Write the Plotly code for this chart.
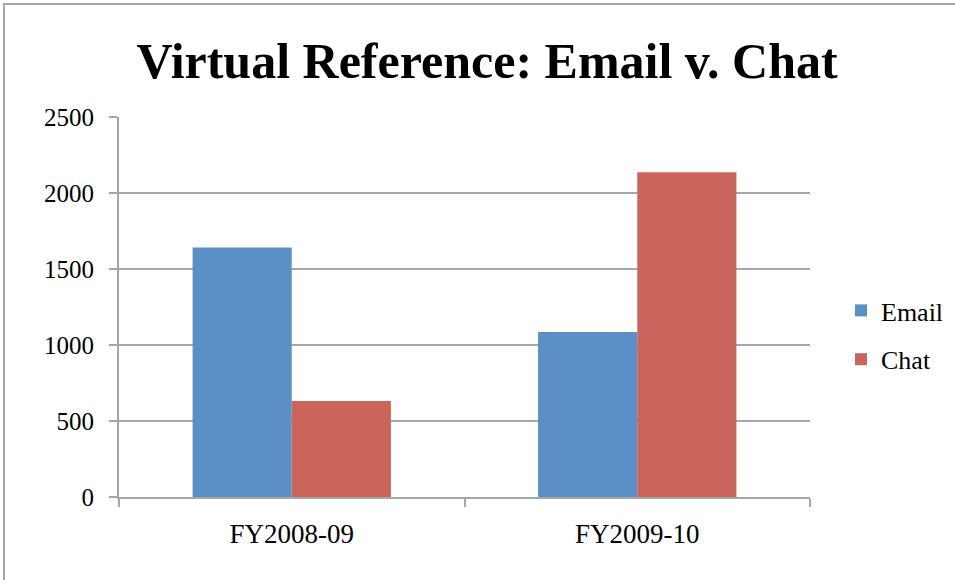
import plotly.graph_objects as go

categories = ["FY2008-09", "FY2009-10"]
email = [1641, 1086]
chat = [632, 2136]
y_ticks = [0, 500, 1000, 1500, 2000, 2500]

W, H = 955, 580
ML, MR, MT, MB = 119, 145, 117, 83
FONT = "Liberation Serif"
GRAY = "#a6a6a6"

fig = go.Figure()
fig.add_trace(go.Bar(name="Email", x=categories, y=email, marker_color="#5b90c6",
                     marker_line_width=0, legendgroup="a"))
fig.add_trace(go.Bar(name="Chat", x=categories, y=chat, marker_color="#ca655b",
                     marker_line_width=0, legendgroup="b"))

pw = W - ML - MR
ph = H - MT - MB
fig.add_shape(type="rect", xref="paper", yref="paper",
              x0=(4 - ML) / pw, x1=(W + 10 - ML) / pw,
              y0=-(MB + 10) / ph, y1=(H - 4 - MB) / ph,
              line=dict(color=GRAY, width=2), layer="below")

fig.update_layout(
    width=W, height=H,
    margin=dict(l=ML, r=MR, t=MT, b=MB, pad=0, autoexpand=False),
    paper_bgcolor="white", plot_bgcolor="white",
    barmode="group", bargap=0.426, bargroupgap=0,
    font=dict(family=FONT, color="black"),
    title=dict(text="<b>Virtual Reference: Email v. Chat</b>",
               font=dict(family=FONT, size=50, color="black"),
               xref="paper", x=(487 - ML) / pw, xanchor="center",
               y=1 - 60 / H, yanchor="middle"),
    legend=dict(xref="container", yref="container", x=841 / W, y=(H - 335) / H,
                xanchor="left", yanchor="middle",
                font=dict(size=26), tracegroupgap=12, itemwidth=30),
    xaxis=dict(showline=True, linecolor=GRAY, linewidth=2,
               ticks="outside", tickson="boundaries", ticklen=8,
               tickcolor=GRAY, tickwidth=2, tickfont=dict(size=27),
               ticklabelstandoff=12),
    yaxis=dict(range=[0, 2500], tickvals=y_ticks, showline=True, linecolor=GRAY,
               linewidth=2, showgrid=True, gridcolor=GRAY, gridwidth=2,
               ticks="outside", ticklen=8, tickcolor=GRAY, tickwidth=2,
               tickfont=dict(size=25), ticklabelstandoff=10, zeroline=False),
)
fig.write_html("out.html", config={"displayModeBar": False},
               post_script="document.body.style.margin='0';")
